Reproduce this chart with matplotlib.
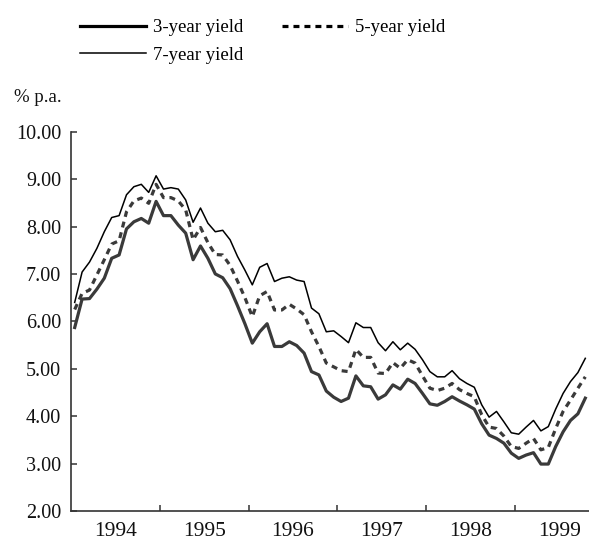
import matplotlib
matplotlib.use("Agg")
import matplotlib.pyplot as plt
import numpy as np

plt.rcParams['font.family'] = ['Liberation Serif', 'DejaVu Serif']
plt.rcParams['lines.scale_dashes'] = False

# Monthly observations, Jan 1994 - Oct 1999
yield_3y = [5.87, 6.47, 6.48, 6.68, 6.91, 7.33, 7.40, 7.95, 8.10, 8.17, 8.07, 8.53,
            8.23, 8.23, 8.03, 7.86, 7.30, 7.59, 7.33, 7.00, 6.92, 6.69, 6.33, 5.95,
            5.54, 5.78, 5.95, 5.47, 5.47, 5.57, 5.49, 5.33, 4.94, 4.87, 4.53, 4.40,
            4.31, 4.38, 4.85, 4.64, 4.62, 4.36, 4.45, 4.66, 4.57, 4.78, 4.69, 4.48,
            4.26, 4.23, 4.31, 4.41, 4.32, 4.24, 4.15, 3.84, 3.60, 3.53, 3.43, 3.22,
            3.11, 3.18, 3.23, 2.99, 2.99, 3.36, 3.67, 3.91, 4.05, 4.38]
yield_5y = [6.25, 6.59, 6.66, 6.98, 7.30, 7.63, 7.70, 8.31, 8.54, 8.60, 8.49, 8.89,
            8.61, 8.61, 8.54, 8.35, 7.72, 7.98, 7.66, 7.41, 7.40, 7.18, 6.85, 6.50,
            6.10, 6.54, 6.63, 6.24, 6.24, 6.36, 6.26, 6.14, 5.78, 5.47, 5.12, 5.04,
            4.96, 4.94, 5.41, 5.24, 5.24, 4.91, 4.90, 5.13, 5.01, 5.19, 5.12, 4.85,
            4.59, 4.54, 4.59, 4.69, 4.56, 4.48, 4.41, 4.03, 3.77, 3.74, 3.58, 3.36,
            3.32, 3.43, 3.53, 3.29, 3.34, 3.74, 4.10, 4.34, 4.59, 4.83]
yield_7y = [6.40, 7.04, 7.25, 7.54, 7.89, 8.19, 8.23, 8.67, 8.84, 8.89, 8.72, 9.07,
            8.79, 8.82, 8.79, 8.56, 8.09, 8.39, 8.07, 7.89, 7.92, 7.72, 7.37, 7.08,
            6.77, 7.14, 7.22, 6.84, 6.91, 6.94, 6.87, 6.84, 6.28, 6.16, 5.78, 5.80,
            5.68, 5.55, 5.97, 5.87, 5.87, 5.55, 5.38, 5.57, 5.40, 5.54, 5.41, 5.19,
            4.94, 4.83, 4.83, 4.96, 4.79, 4.69, 4.61, 4.24, 3.98, 4.10, 3.88, 3.65,
            3.62, 3.77, 3.91, 3.69, 3.78, 4.15, 4.48, 4.73, 4.92, 5.22]
years = ['1994', '1995', '1996', '1997', '1998', '1999']
y_ticks = [2, 3, 4, 5, 6, 7, 8, 9, 10]
labels = ['3-year yield', '7-year yield', '5-year yield']

fig = plt.figure(figsize=(5.89, 5.40), dpi=100)
ax = fig.add_axes([71/589, 1 - 511/540, 1 - 71/589, (511 - 131.7)/540])

n = len(yield_3y)
x = np.arange(n)
l3, = ax.plot(x, yield_3y, color='#3a3a3a', lw=2.3)
l5, = ax.plot(x, yield_5y, color='#3a3a3a', lw=2.3, linestyle=(0, (4.3, 3.6)))
l7, = ax.plot(x, yield_7y, color='#000000', lw=1.1)

ax.set_xlim(-0.5, n - 0.5)
ax.set_ylim(2, 10)
ax.set_yticks(y_ticks)
ax.set_yticklabels([f'{v:.2f}' for v in y_ticks])

bounds = [12 * k - 0.5 for k in range(1, len(years))]
ax.set_xticks(bounds)
ax.set_xticklabels([])
ax.set_xticks([12 * k + 5.5 for k in range(len(years))], minor=True)
ax.set_xticklabels(years, minor=True)
ax.tick_params(axis='x', which='major', direction='in', length=4, width=1.1, color='#333333')
ax.tick_params(axis='x', which='minor', length=0, pad=8, labelsize=15.5, labelcolor='#111111')
ax.tick_params(axis='y', direction='in', length=4, width=1.1, color='#333333',
               pad=7, labelsize=14.5, labelcolor='#111111')

for s in ['top', 'right']:
    ax.spines[s].set_visible(False)
for s in ['left', 'bottom']:
    ax.spines[s].set_color('#333333')
    ax.spines[s].set_linewidth(1.2)

fig.text(14/589, 1 - 97/540, '% p.a.', fontsize=13.5, va='center', ha='left', color='#111111')

leg = fig.legend([l3, l7, l5], labels, ncol=2, loc='upper left',
                 bbox_to_anchor=(80/589, 1 - 19/540), frameon=False,
                 fontsize=13.5, handlelength=3.5, handletextpad=0.37,
                 columnspacing=2.1, labelspacing=0.55, borderpad=0,
                 borderaxespad=0)
for h in leg.get_lines():
    h.set_color('#000000')

fig.savefig('out.png', dpi=100)
